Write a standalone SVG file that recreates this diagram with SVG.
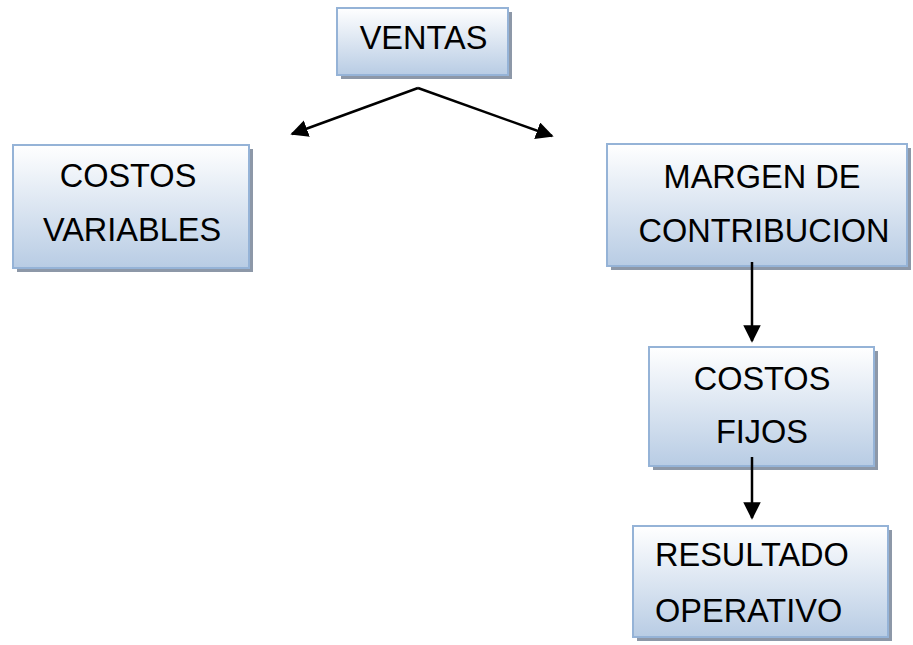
<svg xmlns="http://www.w3.org/2000/svg" width="913" height="645" viewBox="0 0 913 645">
  <style>
    .shadow { fill: #8d98a8; }
    .box { fill: url(#boxFill); stroke: #95b3d7; stroke-width: 2; }
    .label { font-family: "Liberation Sans", Arial, sans-serif; font-size: 32.5px; fill: #000; }
    .mid { text-anchor: middle; }
    .conn { stroke: #000; stroke-width: 2.5; fill: none; marker-end: url(#head); }
  </style>
  <defs>
    <linearGradient id="boxFill" x1="0" y1="0" x2="0" y2="1">
      <stop offset="0" stop-color="#ffffff"/>
      <stop offset="1" stop-color="#b8cce4"/>
    </linearGradient>
    <marker id="head" viewBox="0 0 10 10" refX="9" refY="5" markerWidth="7" markerHeight="7" markerUnits="strokeWidth" orient="auto">
      <path d="M0,0 L10,5 L0,10 Z" fill="#000"/>
    </marker>
  </defs>

  <g id="ventas">
    <rect class="shadow" x="341" y="12" width="171" height="67"/>
    <rect class="box" x="337" y="8" width="171" height="67"/>
    <text class="label mid" x="423.5" y="49">VENTAS</text>
  </g>

  <g id="costos-variables">
    <rect class="shadow" x="17" y="149" width="236" height="123"/>
    <rect class="box" x="13" y="145" width="236" height="123"/>
    <text class="label mid" x="128" y="187">COSTOS</text>
    <text class="label mid" x="132" y="241">VARIABLES</text>
  </g>

  <g id="margen-contribucion">
    <rect class="shadow" x="611" y="148" width="300" height="122"/>
    <rect class="box" x="607" y="144" width="300" height="122"/>
    <text class="label mid" x="762" y="188">MARGEN DE</text>
    <text class="label mid" x="764" y="242">CONTRIBUCION</text>
  </g>

  <g id="costos-fijos">
    <rect class="shadow" x="653" y="351" width="225" height="119"/>
    <rect class="box" x="649" y="347" width="225" height="119"/>
    <text class="label mid" x="762" y="390">COSTOS</text>
    <text class="label mid" x="762" y="443">FIJOS</text>
  </g>

  <g id="resultado-operativo">
    <rect class="shadow" x="637" y="530" width="255" height="111"/>
    <rect class="box" x="633" y="526" width="255" height="111"/>
    <text class="label" x="655" y="566">RESULTADO</text>
    <text class="label" x="655" y="622">OPERATIVO</text>
  </g>

  <g id="connectors">
    <path class="conn" d="M418,88 L292,134"/>
    <path class="conn" d="M418,88 L552,136"/>
    <path class="conn" d="M752,262 L752,341"/>
    <path class="conn" d="M752,457 L752,518"/>
  </g>
</svg>
